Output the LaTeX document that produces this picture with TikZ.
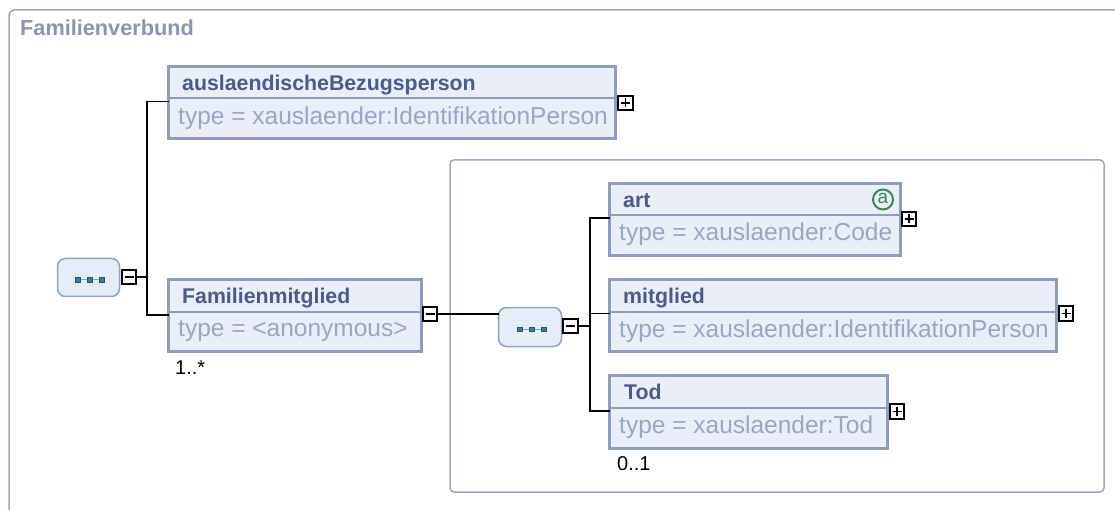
\documentclass[tikz,border=0pt]{standalone}
\usepackage{fontspec}
\setmainfont{Liberation Sans}
\definecolor{boxc}{HTML}{8E9DBE}
\definecolor{boxfill}{HTML}{E9EEF8}
\definecolor{hdrc}{HTML}{4A5A8C}
\definecolor{typc}{HTML}{9AA6C2}
\definecolor{titc}{HTML}{8896B4}
\definecolor{framec}{HTML}{9AA8C6}
\definecolor{seqc}{HTML}{8AA4C6}
\definecolor{seqfill}{HTML}{E7EDF7}
\definecolor{dotc}{HTML}{3A7AAA}
\definecolor{dotl}{HTML}{7FA6C8}
\definecolor{attc}{HTML}{3C8A4C}
\tikzset{
  elbox/.style={draw=boxc, line width=3pt, fill=boxfill, inner sep=0pt, outer sep=0pt},
  divline/.style={draw=boxc, line width=2pt},
  hdr/.style={font=\fontsize{21.3}{24}\selectfont\bfseries, text=hdrc, inner sep=0pt, anchor=base west},
  typ/.style={font=\fontsize{24.5}{26}\selectfont, text=typc, inner sep=0pt, anchor=base west},
  card/.style={font=\fontsize{20}{22}\selectfont, text=black, inner sep=0pt, anchor=base west},
  seqbox/.style={draw=seqc, line width=1.5pt, fill=seqfill, rounded corners=8pt, inner sep=0pt, outer sep=0pt},
  expbox/.style={draw=black, line width=1.8pt, fill=white, minimum size=14.5pt, inner sep=0pt, outer sep=0pt},
  expmark/.style={line width=1.8pt},
  conn/.style={draw=black, line width=1.3pt},
  frame/.style={draw=framec, line width=1.5pt, rounded corners=5pt},
  sq/.style={fill=dotc, draw=dotc!70!black, line width=0.5pt, minimum size=4.5pt, inner sep=0pt}
}
\begin{document}
\begin{tikzpicture}[x=1pt, y=-1pt]
\useasboundingbox (0,0) rectangle (1115,510);
% outer frame
\coordinate (ofb) at (9,510);
\coordinate (oft) at (9,10);
\coordinate (ofr) at (1115,10);
\draw[frame] (ofb) -- (oft) -- (ofr);
\node[font=\fontsize{21.7}{24}\selectfont\bfseries, text=titc, inner sep=0pt, anchor=base west] (title) at (20,36) {Familienverbund};
% inner frame
\draw[frame, rounded corners=4pt] (450,160) rectangle (1104,492);

% sequence 1
\node[seqbox, minimum width=62pt, minimum height=38pt] (seq1) at (88.5,277.5) {};
\draw[dotl, line width=1pt] (77.5,280) -- (101.5,280);
\node[sq] (s1a) at (77.5,280) {};
\node[sq] (s1b) at (89.5,280) {};
\node[sq] (s1c) at (101.5,280) {};
\node[expbox] (e1) at (129,277) {};
\draw[expmark] (e1.center) ++(-4.5,0) -- ++(9,0);

% sequence 2
\node[seqbox, minimum width=63pt, minimum height=39pt] (seq2) at (530,327) {};
\draw[dotl, line width=1pt] (519.5,329) -- (543.5,329);
\node[sq] (s2a) at (519.5,329) {};
\node[sq] (s2b) at (531.5,329) {};
\node[sq] (s2c) at (543.5,329) {};
\node[expbox] (e2) at (570.5,326) {};
\draw[expmark] (e2.center) ++(-4.5,0) -- ++(9,0);

% element: auslaendischeBezugsperson
\node[elbox, minimum width=447pt, minimum height=72pt] (aus) at (392,102.5) {};
\draw[divline] (168.5,98.5) -- (615.5,98.5);
\node[hdr] (aus-h) at (182,91) {auslaendischeBezugsperson};
\node[typ] (aus-t) at (178,125) {type = xauslaender:IdentifikationPerson};
\node[expbox] (aus-e) at (625.5,103) {};
\draw[expmark] (aus-e.center) ++(-4.5,0) -- ++(9,0) (aus-e.center) ++(0,-4.5) -- ++(0,9);

% element: Familienmitglied
\node[elbox, minimum width=253pt, minimum height=72pt] (fm) at (295,315.5) {};
\draw[divline] (168.5,312) -- (421.5,312);
\node[hdr] (fm-h) at (182,303.5) {Familienmitglied};
\node[typ] (fm-t) at (178,336.5) {type = <anonymous>};
\node[expbox] (fm-e) at (430,314) {};
\draw[expmark] (fm-e.center) ++(-4.5,0) -- ++(9,0);
\node[card] (fm-c) at (175,374) {1..*};

% element: art
\node[elbox, minimum width=291pt, minimum height=72pt] (art) at (755,219.5) {};
\draw[divline] (609.5,215) -- (900.5,215);
\node[hdr] (art-h) at (623,207.5) {art};
\node[typ] (art-t) at (619,241) {type = xauslaender:Code};
\node[expbox] (art-e) at (909,219) {};
\draw[expmark] (art-e.center) ++(-4.5,0) -- ++(9,0) (art-e.center) ++(0,-4.5) -- ++(0,9);
\node[draw=attc, line width=2pt, circle, minimum size=20pt, inner sep=0pt] (art-a) at (883,199.5) {};
\node[font=\fontsize{19}{20}\selectfont, text=attc, inner sep=0pt] (art-al) at (883,198) {a};

% element: mitglied
\node[elbox, minimum width=447pt, minimum height=72pt] (mit) at (833,315.5) {};
\draw[divline] (609.5,311.5) -- (1056.5,311.5);
\node[hdr] (mit-h) at (623,303.5) {mitglied};
\node[typ] (mit-t) at (619,337) {type = xauslaender:IdentifikationPerson};
\node[expbox] (mit-e) at (1066,313.5) {};
\draw[expmark] (mit-e.center) ++(-4.5,0) -- ++(9,0) (mit-e.center) ++(0,-4.5) -- ++(0,9);

% element: Tod
\node[elbox, minimum width=278pt, minimum height=73pt] (tod) at (748.5,412) {};
\draw[divline] (609.5,407.5) -- (887.5,407.5);
\node[hdr] (tod-h) at (624,399) {Tod};
\node[typ] (tod-t) at (619,433) {type = xauslaender:Tod};
\node[expbox] (tod-e) at (897,411.5) {};
\draw[expmark] (tod-e.center) ++(-4.5,0) -- ++(9,0) (tod-e.center) ++(0,-4.5) -- ++(0,9);
\node[card] (tod-c) at (617,470) {0..1};

% connectors level 1
\coordinate (j1) at (147,277);
\draw[conn] (e1.east) -- (j1);
\draw[conn] (j1) |- (aus.west |- 0,101.5);
\draw[conn] (j1) |- (fm.west |- 0,315);
% fm to seq2
\draw[conn] (fm-e.east) -- (fm-e.east -| seq2.west);
% connectors level 2
\coordinate (j2) at (590,326);
\draw[conn] (e2.east) -- (j2);
\draw[conn] (j2) |- (art.west |- 0,218);
\draw[conn] (j2) |- (mit.west |- 0,313.5);
\draw[conn] (j2) |- (tod.west |- 0,411);
\end{tikzpicture}
\end{document}
